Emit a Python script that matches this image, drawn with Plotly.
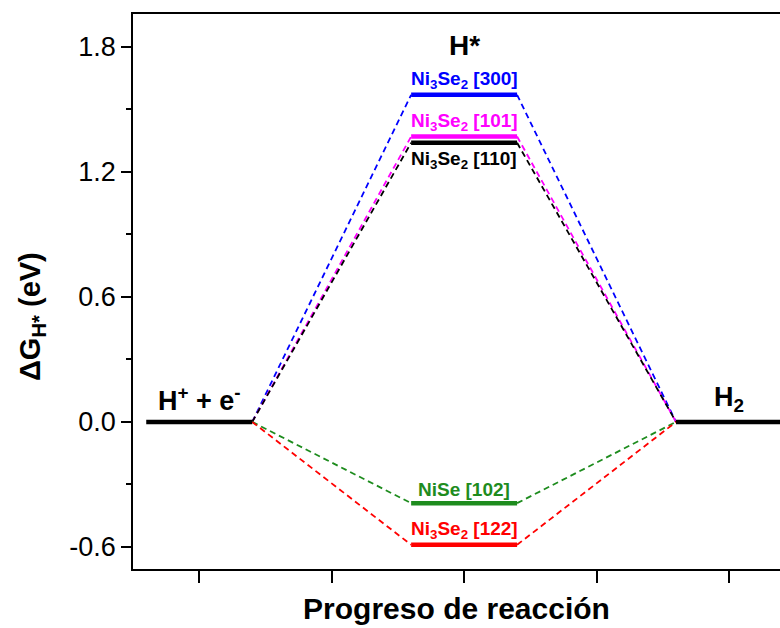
import plotly.graph_objects as go

# Free-energy levels of adsorbed hydrogen (eV)
surfaces = ["Ni<sub>3</sub>Se<sub>2</sub> [300]", "Ni<sub>3</sub>Se<sub>2</sub> [101]",
            "Ni<sub>3</sub>Se<sub>2</sub> [110]", "NiSe [102]", "Ni<sub>3</sub>Se<sub>2</sub> [122]"]
dG_H = [1.57, 1.37, 1.34, -0.39, -0.59]
colors = ["#0000FF", "#FF00FF", "#000000", "#1E8C1E", "#FF0000"]
label_side = ["above", "above", "below", "above", "above"]

# Reaction-coordinate steps: initial state, intermediate, final state
start_x = [0.6, 1.4]
mid_x = [2.6, 3.4]
end_x = [4.6, 5.4]
state_labels = ["H<sup>+</sup> + e<sup>-</sup>", "H*", "H<sub>2</sub>"]
y_ticks = [-0.6, 0.0, 0.6, 1.2, 1.8]
x_ticks = [1, 2, 3, 4, 5]

FONT = "Liberation Sans, Arial, sans-serif"

fig = go.Figure()

# dashed connectors between levels
for name, g, c in zip(surfaces, dG_H, colors):
    fig.add_trace(go.Scatter(
        x=[start_x[1], mid_x[0], None, mid_x[1], end_x[0]],
        y=[0.0, g, None, g, 0.0],
        mode="lines", line=dict(color=c, width=1.8, dash="6px,4px"),
        showlegend=False, hoverinfo="skip"))

# initial and final states
for xs in (start_x, end_x):
    fig.add_trace(go.Scatter(x=xs, y=[0.0, 0.0], mode="lines",
                             line=dict(color="black", width=4.5),
                             showlegend=False, hoverinfo="skip"))

# intermediate H* levels
for name, g, c in zip(surfaces, dG_H, colors):
    fig.add_trace(go.Scatter(x=mid_x, y=[g, g], mode="lines",
                             line=dict(color=c, width=4.5),
                             showlegend=False, name=name))

annotations = []
for name, g, c, side in zip(surfaces, dG_H, colors, label_side):
    annotations.append(dict(
        x=sum(mid_x) / 2, y=g, xref="x", yref="y",
        text=f"<b>{name}</b>", showarrow=False,
        font=dict(family=FONT, size=19, color=c),
        yanchor="bottom" if side == "above" else "top",
        yshift=1 if side == "above" else -3))

# state labels
annotations.append(dict(x=sum(start_x) / 2, y=0.0, xref="x", yref="y",
                        text=f"<b>{state_labels[0]}</b>", showarrow=False,
                        font=dict(family=FONT, size=27, color="black"),
                        yanchor="bottom", yshift=4))
annotations.append(dict(x=sum(mid_x) / 2, y=max(dG_H), xref="x", yref="y",
                        text=f"<b>{state_labels[1]}</b>", showarrow=False,
                        font=dict(family=FONT, size=28, color="black"),
                        yanchor="bottom", yshift=32))
annotations.append(dict(x=sum(end_x) / 2, y=0.0, xref="x", yref="y",
                        text=f"<b>{state_labels[2]}</b>", showarrow=False,
                        font=dict(family=FONT, size=27, color="black"),
                        yanchor="bottom", yshift=4))

# y-axis title, rotated
annotations.append(dict(x=0, y=0.454, xref="paper", yref="paper",
                        text="<b>ΔG<sub>H*</sub> (eV)</b>", showarrow=False,
                        textangle=-90, xanchor="center", yanchor="middle",
                        xshift=-101,
                        font=dict(family=FONT, size=29, color="black")))

fig.update_layout(
    width=780, height=628,
    margin=dict(l=133, r=0, t=14, b=59),
    paper_bgcolor="white", plot_bgcolor="white",
    font=dict(family=FONT, color="black"),
    annotations=annotations,
    xaxis=dict(
        range=[0.5, 5.385], tickvals=x_ticks, showticklabels=False,
        ticks="outside", ticklen=12, tickwidth=1.5, tickcolor="black",
        showline=True, linecolor="black", linewidth=1.5, mirror=True,
        showgrid=False, zeroline=False,
        title=dict(text="<b>Progreso de reacción</b>",
                   font=dict(family=FONT, size=30), standoff=16)),
    yaxis=dict(
        range=[-0.706, 1.958], tickvals=y_ticks,
        ticktext=[f"{v:.1f}" for v in y_ticks],
        ticks="outside", ticklen=10, tickwidth=1.5, tickcolor="black",
        tickfont=dict(family=FONT, size=27),
        minor=dict(tick0=0.3, dtick=0.6, ticks="outside", ticklen=5,
                   tickwidth=1.5, tickcolor="black"),
        showline=True, linecolor="black", linewidth=1.5,
        showgrid=False, zeroline=False),
)

fig.write_html("out.html")
